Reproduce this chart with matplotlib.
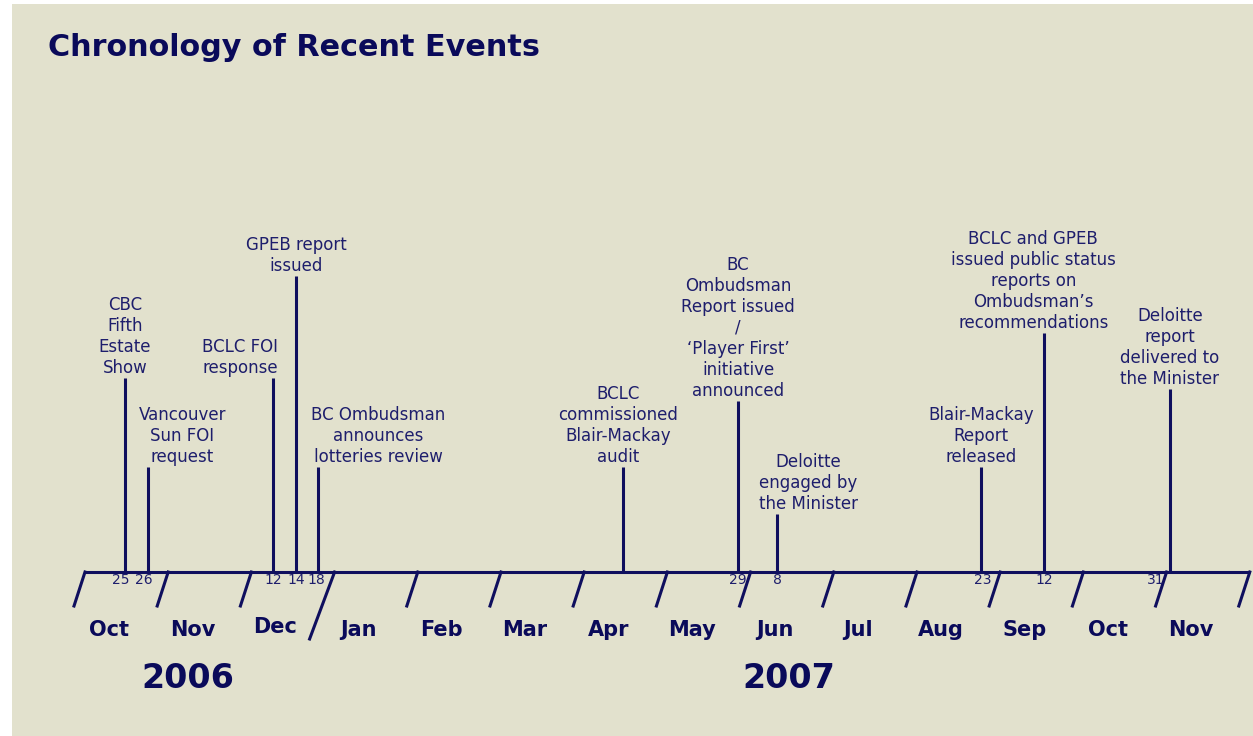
import matplotlib
matplotlib.use("Agg")
import matplotlib.pyplot as plt

# 데이터
months = ["Oct", "Nov", "Dec", "Jan", "Feb", "Mar", "Apr",
          "May", "Jun", "Jul", "Aug", "Sep", "Oct", "Nov"]
years = ["2006", "2007"]
year_pos = [1.23, 8.46]          # month units from Oct 2006

events = [
    "CBC\nFifth\nEstate\nShow",
    "Vancouver\nSun FOI\nrequest",
    "BCLC FOI\nresponse",
    "GPEB report\nissued",
    "BC Ombudsman\nannounces\nlotteries review",
    "BCLC\ncommissioned\nBlair-Mackay\naudit",
    "BC\nOmbudsman\nReport issued\n/\n\u2018Player First\u2019\ninitiative\nannounced",
    "Deloitte\nengaged by\nthe Minister",
    "Blair-Mackay\nReport\nreleased",
    "BCLC and GPEB\nissued public status\nreports on\nOmbudsman\u2019s\nrecommendations",
    "Deloitte\nreport\ndelivered to\nthe Minister",
]
event_day = ["25", "26", "12", "14", "18", "", "29", "8", "23", "12", "31"]
event_pos = [0.48, 0.76, 2.26, 2.54, 2.80, 6.47, 7.85, 8.32, 10.77, 11.53, 13.04]

# 레이아웃 (pixel)
stem_top = [378, 467, 378, 276, 467, 467, 401, 514, 467, 333, 389]
label_dx = [0, 34, -33, 0, 60, -5, 0, 31, 0, -11, 0]
day_dx = [-4, -4, 0, 0, -2, 0, 0, 0, 2, 0, -14]

W, H = 1253, 736
X0, PPM = 85, 83.2        # axis start pixel, pixels per month
AXIS_Y = 572
LINE = "#0f0f5e"
TXT = "#1e1e6c"
BOLD = "#0a0a5a"
LW = 2.2

fig = plt.figure(figsize=(W / 100, H / 100), dpi=100, facecolor="white")
ax = fig.add_axes([12 / W, 0, (W - 12) / W, (H - 4) / H])
ax.set_facecolor("#e2e1cd")
ax.set_xlim((12 - X0) / PPM, (W - X0) / PPM)
ax.set_ylim(H, 4)
for s in ax.spines.values():
    s.set_visible(False)
ax.set_xticks([])
ax.set_yticks([])

px = 1 / PPM

# 축
ax.plot([0, len(months)], [AXIS_Y, AXIS_Y], color=LINE, lw=LW, solid_capstyle="butt")
for i in range(len(months) + 1):
    if i == 3:
        ax.plot([i, i - 25 * px], [AXIS_Y, 639], color=LINE, lw=LW)
    else:
        ax.plot([i, i - 11 * px], [AXIS_Y, 606], color=LINE, lw=LW)

for i, m in enumerate(months):
    y = 627 if i == 2 else 630
    ax.text(i + 0.29, y, m, ha="center", va="center", fontsize=15,
            fontweight="bold", color=BOLD)

for yr, p in zip(years, year_pos):
    ax.text(p, 678, yr, ha="center", va="center", fontsize=24,
            fontweight="bold", color=BOLD)

# 이벤트
for i, txt in enumerate(events):
    x = event_pos[i]
    ax.plot([x, x], [AXIS_Y, stem_top[i]], color=LINE, lw=LW, solid_capstyle="butt")
    ax.text(x + label_dx[i] * px, stem_top[i] - 1, txt, ha="center", va="bottom",
            fontsize=12, color=TXT, linespacing=1.22, multialignment="center")
    if event_day[i]:
        ax.text(x + day_dx[i] * px, 580, event_day[i], ha="center", va="center",
                fontsize=10, color=TXT)

ax.text((48 - X0) / PPM, 47, "Chronology of Recent Events", ha="left", va="center",
        fontsize=21.8, fontweight="bold", color=BOLD)

fig.savefig("out.png", dpi=100, facecolor="white")
